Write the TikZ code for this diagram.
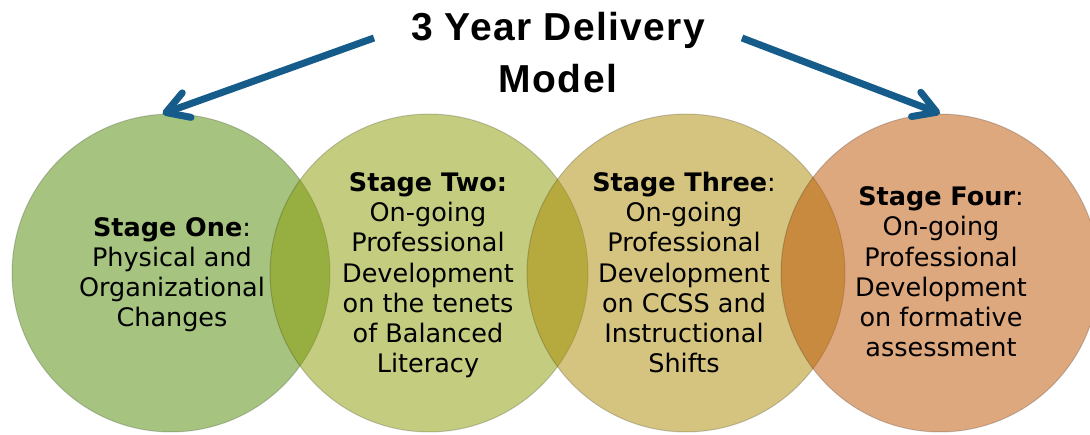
\documentclass[tikz,border=0pt]{standalone}
\usepackage{fontspec}
\setmainfont{DejaVu Sans}
\newfontfamily\titlefont[LetterSpace=3.5]{Liberation Sans}
\usetikzlibrary{arrows.meta}
\definecolor{cA}{RGB}{77,137,1}
\definecolor{cB}{RGB}{137,153,1}
\definecolor{cC}{RGB}{169,137,0}
\definecolor{cD}{RGB}{189,81,0}
\definecolor{arrowblue}{RGB}{22,92,138}
\begin{document}
\begin{tikzpicture}[x=1pt,y=-1pt,
  stage/.style={circle, minimum size=318pt, inner sep=0pt, fill opacity=0.5,
    draw=black, draw opacity=0.18, line width=1pt},
  stagetext/.style={align=center, font=\fontsize{25.5}{30.3}\selectfont,
    inner sep=0pt, anchor=base},
  arrowline/.style={draw=arrowblue, line width=7pt,
    -{Straight Barb[round,length=22pt,width=26pt]}},
]
\clip (0,0) rectangle (1090,435);
\node[stage, fill=cA] (c1) at (171,273) {};
\node[stage, fill=cB] (c2) at (429,273) {};
\node[stage, fill=cC] (c3) at (686,273) {};
\node[stage, fill=cD] (c4) at (940,273) {};

\node[stagetext] (t1) at (172,327) {\textbf{Stage One}:\\Physical and\\Organizational\\Changes};
\node[stagetext] (t2) at (428,373) {\textbf{Stage Two:}\\On-going\\Professional\\Development\\on the tenets\\of Balanced\\Literacy};
\node[stagetext] (t3) at (684,373) {\textbf{Stage Three}:\\On-going\\Professional\\Development\\on CCSS and\\Instructional\\Shifts};
\node[stagetext] (t4) at (941,357) {\textbf{Stage Four}:\\On-going\\Professional\\Development\\on formative\\assessment};

\node[font=\titlefont\bfseries\fontsize{39}{52}\selectfont, align=center,
  anchor=base, inner sep=0pt] (title) at (558,93) {3 Year Delivery\\Model};

\coordinate (s1) at (374,38);
\coordinate (s2) at (742,38);
\draw[arrowline] (s1) -- (c1.93);
\draw[arrowline] (s2) -- (c4.north);
\end{tikzpicture}
\end{document}
